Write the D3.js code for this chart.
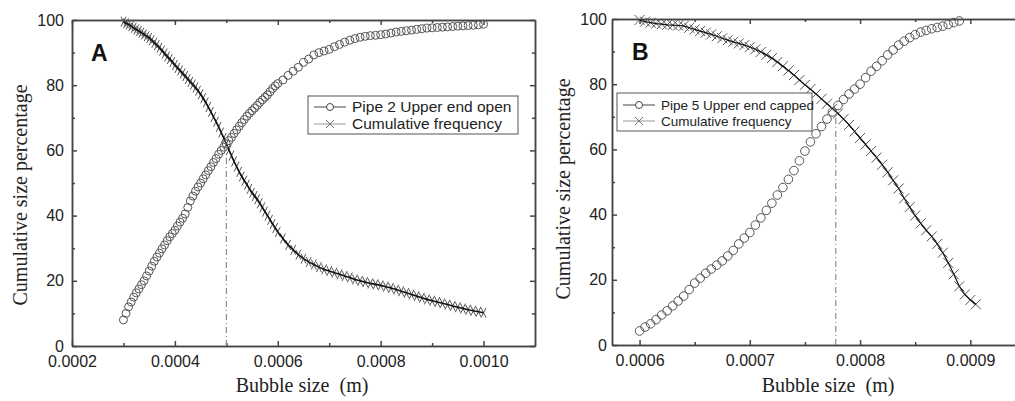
<!DOCTYPE html>
<html>
<head>
<meta charset="utf-8">
<script src="https://cdn.jsdelivr.net/npm/d3@7"></script>
<style>
  body { margin: 0; background: #fff; }
  svg { display: block; }
  .axis path, .axis line { stroke: #444; stroke-width: 1.5; }
  .tick text { font-family: "Liberation Sans", Arial, sans-serif; font-size: 16px; fill: #222; }
</style>
</head>
<body>
<svg id="chart" width="1015" height="401"></svg>
<script>
// bubble sizes are in micrometres, labels are shown in metres

// panel A - pipe 2, upper end open
var sizesA = [300, 305, 310, 315, 320, 325, 330, 335, 340, 345, 350, 355, 360, 365, 370, 375,
  380, 385, 390, 395, 400, 405, 410, 415, 420, 425, 430, 435, 440, 445, 450, 455, 460, 465,
  470, 475, 480, 485, 490, 495, 500, 505, 510, 515, 520, 525, 530, 535, 540, 545, 550, 555,
  560, 565, 570, 575, 580, 585, 590, 595, 600,
  610, 620, 630, 640, 650, 660, 670, 680, 690, 700, 710, 720, 730, 740, 750, 760, 770, 780,
  790, 800, 810, 820, 830, 840, 850, 860, 870, 880, 890, 900, 910, 920, 930, 940, 950, 960,
  970, 980, 990, 1000];
var openA = [8, 10, 12, 13.5, 15, 16.3, 17.5, 18.8, 20, 21.5, 23, 24.5, 26, 27.3, 28.5, 29.8,
  31, 32.3, 33.5, 34.5, 35.5, 36.8, 38, 39.2, 40.5, 42.5, 44.5, 46, 47.5, 48.8, 50, 51.3, 52.5, 53.8,
  55, 56.3, 57.5, 58.8, 60, 61, 62, 63, 64, 65.2, 66.3, 67.4, 68.5, 69.5, 70.5, 71.4, 72.2, 73,
  73.8, 74.7, 75.5, 76.3, 77, 78, 79, 79.8, 80.5,
  81.6, 83, 84.3, 85.5, 87, 88, 89.3, 90, 90.5, 91, 91.8, 92.5, 93.2, 93.8, 94.3, 94.7, 95, 95.2,
  95.3, 95.5, 95.7, 96, 96.3, 96.5, 96.7, 96.9, 97.1, 97.3, 97.5, 97.6, 97.7, 97.8, 97.9, 98, 98.1, 98.2,
  98.3, 98.4, 98.5, 98.7];
var freqA = [99.5, 99, 98.6, 98.1, 97.6, 97.1, 96.6, 96.1, 95.6, 95, 94.5, 93.8, 93, 92.3, 91.5, 90.6,
  89.7, 88.8, 88, 87.1, 86.2, 85.3, 84.5, 83.6, 82.8, 81.9, 81, 80.2, 79.3, 78.3, 77.2, 76, 74.7, 73.3,
  71.8, 70.3, 68.8, 67.2, 65.5, 63.8, 62, 60.2, 58.4, 56.6, 55, 53.4, 52, 50.7, 49.5, 48.2, 47, 46,
  45, 43.8, 42.5, 41.2, 40, 38.7, 37.4, 36.2, 35,
  33, 31, 29.5, 28, 26.8, 25.8, 25, 24.2, 23.5, 23, 22.5, 22, 21.5, 21, 20.4, 20, 19.6, 19.2,
  18.9, 18.6, 18.2, 17.8, 17.3, 16.8, 16.3, 15.8, 15.3, 14.8, 14.3, 13.9, 13.5, 13.1, 12.7, 12.3, 11.9, 11.5,
  11.1, 10.8, 10.5, 10.2];
var xTicksA = [200, 400, 600, 800, 1000];
var xMinorA = [300, 500, 700, 900];
var dropA = [500, 60];

// panel B - pipe 5, upper end capped
var sizesB = [600, 605, 610, 615, 620, 625, 630, 635, 640, 645, 650, 655, 660, 665, 670, 675,
  680, 685, 690, 695, 700, 705, 710, 715, 720, 725, 730, 735, 740, 745, 750, 755, 760, 765,
  770, 775, 780, 785, 790, 795, 800, 805, 810, 815, 820, 825, 830, 835, 840, 845, 850, 855,
  860, 865, 870, 875, 880, 885, 890, 895, 900, 905];
var cappedB = [4.3, 5.5, 6.5, 7.8, 9.2, 10.5, 12, 13.5, 15, 17, 19, 20.5, 22, 23.3, 24.5, 25.8,
  27.3, 29, 31, 32.8, 34.5, 36.8, 39, 41.3, 43.5, 46, 48.3, 50.8, 53.5, 56.5, 59.5, 62.3, 64.8, 67,
  69.3, 71.5, 73.5, 75.3, 77, 78.5, 80, 82, 84, 85.5, 87.2, 89, 90.5, 92, 93.2, 94.3, 95.2, 96,
  96.5, 97, 97.4, 97.8, 98.3, 98.9, 99.4];
var freqB = [99.7, 99.2, 98.9, 98.6, 98.4, 98.2, 98.1, 98, 97.9, 97.3, 96.8, 96.3, 95.8, 95.3, 94.7, 94.1,
  93.5, 93, 92.5, 92, 91.4, 90.7, 89.9, 89, 88, 86.8, 85.5, 84.2, 82.8, 81.3, 79.8, 78.5, 77, 75.5,
  74, 72.5, 71, 69.3, 67.5, 65.5, 63.5, 61.5, 59.5, 57.5, 55.3, 53, 50.5, 48, 45, 42.3, 39.7, 37.3,
  35.2, 33.3, 31, 28.3, 25.2, 21.7, 18, 15.5, 13.8, 12.5];
var xTicksB = [600, 700, 800, 900];
var xMinorB = [650, 750, 850, 950];
var dropB = [778, 70];

var yTicks = [0, 20, 40, 60, 80, 100];
var yMinor = [10, 30, 50, 70, 90];

var svg = d3.select('#chart');

function fmtSize(d) {
  return (d / 1e6).toFixed(4);
}

function drawPanel(p) {
  var g = svg.append('g');
  var x = d3.scaleLinear().domain(p.xDomain).range(p.xRange);
  var y = d3.scaleLinear().domain([0, 100]).range(p.yRange);
  var x0 = p.xRange[0], x1 = p.xRange[1], yb = p.yRange[0], yt = p.yRange[1];

  // axes, all ticks pointing into the plot
  g.append('g').attr('class', 'axis').attr('transform', 'translate(0,' + yb + ')')
    .call(d3.axisBottom(x).tickValues(p.xTicks).tickSize(-5).tickSizeOuter(0).tickPadding(10).tickFormat(fmtSize));
  g.append('g').attr('class', 'axis').attr('transform', 'translate(0,' + yb + ')')
    .call(d3.axisBottom(x).tickValues(p.xMinor).tickSize(-3).tickSizeOuter(0).tickFormat(''));
  g.append('g').attr('class', 'axis').attr('transform', 'translate(0,' + yt + ')')
    .call(d3.axisTop(x).tickValues(p.xTicks).tickSize(-5).tickSizeOuter(0).tickFormat(''));
  g.append('g').attr('class', 'axis').attr('transform', 'translate(0,' + yt + ')')
    .call(d3.axisTop(x).tickValues(p.xMinor).tickSize(-3).tickSizeOuter(0).tickFormat(''));
  g.append('g').attr('class', 'axis').attr('transform', 'translate(' + x0 + ',0)')
    .call(d3.axisLeft(y).tickValues(yTicks).tickSize(-5).tickSizeOuter(0).tickPadding(p.yPad));
  g.append('g').attr('class', 'axis').attr('transform', 'translate(' + x0 + ',0)')
    .call(d3.axisLeft(y).tickValues(yMinor).tickSize(-3).tickSizeOuter(0).tickFormat(''));
  g.append('g').attr('class', 'axis').attr('transform', 'translate(' + x1 + ',0)')
    .call(d3.axisRight(y).tickValues(yTicks).tickSize(-5).tickSizeOuter(0).tickFormat(''));
  g.append('g').attr('class', 'axis').attr('transform', 'translate(' + x1 + ',0)')
    .call(d3.axisRight(y).tickValues(yMinor).tickSize(-3).tickSizeOuter(0).tickFormat(''));

  // dash-dot drop line at the crossing point
  g.append('line')
    .attr('x1', x(p.drop[0])).attr('x2', x(p.drop[0]))
    .attr('y1', y(0)).attr('y2', y(p.drop[1]))
    .attr('stroke', '#777').attr('stroke-width', 1)
    .attr('stroke-dasharray', '6,3,1,3');

  var circlePts = p.circleVals.map(function (v, i) { return [p.sizes[i], v]; });
  var crossPts = p.crossVals.map(function (v, i) { return [p.sizes[i], v]; });

  // cumulative frequency: grey crosses with a dark line through them
  var w = p.crossW, h = p.crossH;
  g.append('g').selectAll('path')
    .data(crossPts)
    .enter().append('path')
    .attr('d', function (d) {
      var cx = x(d[0]), cy = y(d[1]);
      return 'M' + (cx - w) + ',' + (cy - h) + 'L' + (cx + w) + ',' + (cy + h) +
        'M' + (cx - w) + ',' + (cy + h) + 'L' + (cx + w) + ',' + (cy - h);
    })
    .attr('stroke', '#555').attr('stroke-width', 1).attr('fill', 'none');

  g.append('path')
    .datum(crossPts)
    .attr('d', d3.line().x(function (d) { return x(d[0]); }).y(function (d) { return y(d[1]); }))
    .attr('fill', 'none').attr('stroke', '#111').attr('stroke-width', p.lineW);

  // open circles
  g.append('g').selectAll('circle')
    .data(circlePts)
    .enter().append('circle')
    .attr('cx', function (d) { return x(d[0]); })
    .attr('cy', function (d) { return y(d[1]); })
    .attr('r', p.circleR)
    .attr('fill', 'none').attr('stroke', '#555').attr('stroke-width', 1);

  // legend
  var lg = p.legend;
  g.append('rect')
    .attr('x', lg.x).attr('y', lg.y).attr('width', lg.w).attr('height', lg.h)
    .attr('fill', '#fff').attr('stroke', '#555').attr('stroke-width', 1);
  var sx = lg.x + 6, sw = 32, r1 = lg.y + lg.row1, r2 = lg.y + lg.row2;
  g.append('line').attr('x1', sx).attr('x2', sx + sw).attr('y1', r1).attr('y2', r1)
    .attr('stroke', '#444').attr('stroke-width', 1);
  g.append('circle').attr('cx', sx + sw / 2).attr('cy', r1).attr('r', 3.5)
    .attr('fill', '#fff').attr('stroke', '#444').attr('stroke-width', 1);
  g.append('line').attr('x1', sx).attr('x2', sx + sw).attr('y1', r2).attr('y2', r2)
    .attr('stroke', '#999').attr('stroke-width', 1);
  g.append('path')
    .attr('d', 'M' + (sx + sw / 2 - 4) + ',' + (r2 - 4) + 'L' + (sx + sw / 2 + 4) + ',' + (r2 + 4) +
      'M' + (sx + sw / 2 - 4) + ',' + (r2 + 4) + 'L' + (sx + sw / 2 + 4) + ',' + (r2 - 4))
    .attr('stroke', '#777').attr('stroke-width', 1);
  [[p.names[0], r1], [p.names[1], r2]].forEach(function (t) {
    g.append('text')
      .attr('x', sx + sw + 6).attr('y', t[1]).attr('dy', '0.35em')
      .style('font-family', '"Liberation Sans", Arial, sans-serif')
      .style('font-size', lg.font + 'px').style('fill', '#222')
      .text(t[0]);
  });

  // panel letter
  g.append('text')
    .attr('x', p.letterPos[0]).attr('y', p.letterPos[1])
    .style('font-family', '"Liberation Sans", Arial, sans-serif')
    .style('font-size', '23px').style('font-weight', 'bold').style('fill', '#111')
    .text(p.letter);

  // axis titles
  g.append('text')
    .attr('transform', 'translate(' + p.yTitlePos[0] + ',' + p.yTitlePos[1] + ') rotate(-90)')
    .attr('text-anchor', 'middle').attr('dy', '0.35em')
    .style('font-family', '"Liberation Serif", "Times New Roman", serif')
    .style('font-size', '20px').style('fill', '#222')
    .text('Cumulative size percentage');
  g.append('text')
    .attr('x', p.xTitlePos[0]).attr('y', p.xTitlePos[1])
    .attr('text-anchor', 'middle')
    .style('font-family', '"Liberation Serif", "Times New Roman", serif')
    .style('font-size', '20px').style('fill', '#222')
    .text('Bubble size\u00a0 (m)');
}

drawPanel({
  sizes: sizesA, circleVals: openA, crossVals: freqA,
  xDomain: [200, 1100], xRange: [72, 535], yRange: [346, 20],
  xTicks: xTicksA, xMinor: xMinorA, yPad: 8,
  drop: dropA, crossW: 2.5, crossH: 5, circleR: 4, lineW: 1.6,
  names: ['Pipe 2 Upper end open', 'Cumulative frequency'],
  legend: {x: 308, y: 96, w: 210, h: 38, row1: 11, row2: 28, font: 15.5},
  letter: 'A', letterPos: [91, 61],
  yTitlePos: [20, 195], xTitlePos: [302, 392]
});

drawPanel({
  sizes: sizesB, circleVals: cappedB, crossVals: freqB,
  xDomain: [575, 975], xRange: [612, 1053], yRange: [345, 19],
  xTicks: xTicksB, xMinor: xMinorB, yPad: 5,
  drop: dropB, crossW: 5, crossH: 5, circleR: 4.3, lineW: 1.2,
  names: ['Pipe 5 Upper end capped', 'Cumulative frequency'],
  legend: {x: 617, y: 93, w: 195, h: 38, row1: 12, row2: 28, font: 13.5},
  letter: 'B', letterPos: [632, 60],
  yTitlePos: [563, 189], xTitlePos: [828, 392]
});
</script>
</body>
</html>
